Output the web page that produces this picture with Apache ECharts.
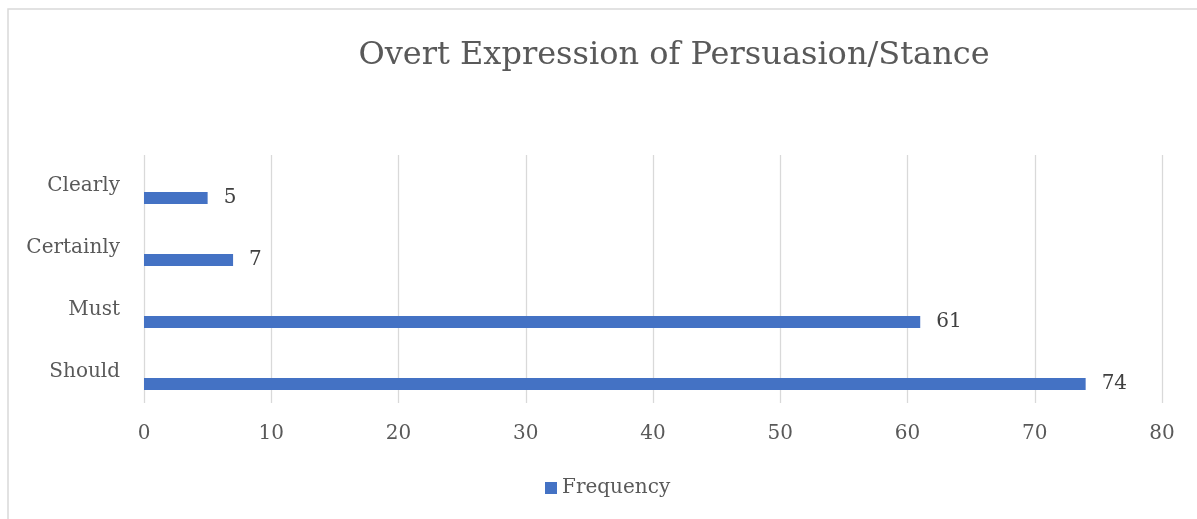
<!DOCTYPE html>
<html><head><meta charset="utf-8">
<script src="https://cdn.jsdelivr.net/npm/echarts@6/dist/echarts.min.js"></script>
<style>html,body{margin:0;padding:0;background:#fff}#c{width:1197px;height:519px}</style>
</head><body><div id="c"></div>
<script>
const categories = ['Should', 'Must', 'Certainly', 'Clearly'];
const frequency = [74, 61, 7, 5];
const xTicks = { min: 0, max: 80, interval: 10 };
const titleText = 'Overt Expression of Persuasion/Stance';
const seriesName = 'Frequency';

const FONT = 'DejaVu Serif';
const chart = echarts.init(document.getElementById('c'), null, { renderer: 'canvas' });
chart.setOption({
  animation: false,
  backgroundColor: '#fff',
  graphic: [{ type: 'rect', shape: { x: 8, y: 9, width: 1300, height: 600 }, style: { fill: 'none', stroke: '#d9d9d9', lineWidth: 1.5 }, silent: true }],
  title: { text: titleText, left: 669, top: 35, textAlign: 'center',
    textStyle: { fontFamily: FONT, fontSize: 32, fontWeight: 'normal', color: '#595959' } },
  legend: { data: [seriesName], left: 545, top: 478, padding: 0, itemWidth: 12, itemHeight: 12, itemGap: 6,
    icon: 'rect', textStyle: { fontFamily: FONT, fontSize: 20, color: '#595959' } },
  grid: { left: 144, right: 35, top: 155, bottom: 116, containLabel: false },
  xAxis: { type: 'value', min: xTicks.min, max: xTicks.max, interval: xTicks.interval,
    axisLine: { show: false }, axisTick: { show: false },
    splitLine: { lineStyle: { color: '#d9d9d9', width: 1.3 } },
    axisLabel: { fontFamily: FONT, fontSize: 20, color: '#595959', margin: 21 } },
  yAxis: { type: 'category', data: categories,
    axisLine: { show: false }, axisTick: { show: false },
    axisLabel: { fontFamily: FONT, fontSize: 20, color: '#595959', margin: 24 } },
  series: [
    { name: 'pad', type: 'bar', data: categories.map(() => '-'), barWidth: 12, barGap: '100%', silent: true },
    { name: seriesName, type: 'bar', data: frequency, barWidth: 12, barGap: '100%',
      itemStyle: { color: '#4472c4' },
      label: { show: true, position: 'right', distance: 16, fontFamily: FONT, fontSize: 20, color: '#404040' } }
  ]
});
</script></body></html>
